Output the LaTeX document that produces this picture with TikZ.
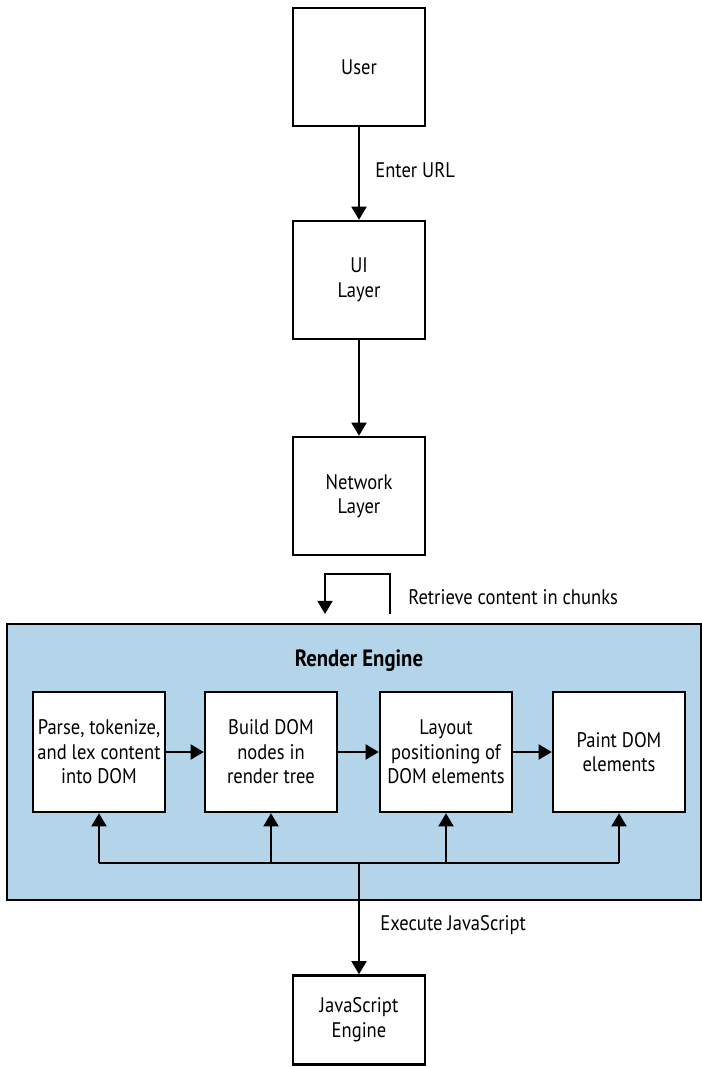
\documentclass[tikz,border=0pt]{standalone}
\usepackage{fontspec}
\setmainfont{PT Sans}[FakeStretch=0.88]
\usetikzlibrary{arrows.meta, positioning}

\definecolor{engineblue}{HTML}{B3D4E9}

\begin{document}
\begin{tikzpicture}[x=0.02cm, y=-0.02cm,
    box/.style={draw, line width=1.4pt, fill=white, minimum width=2.64cm,
        minimum height=2.36cm, align=center, font=\large, inner sep=2pt},
    stage/.style={box, minimum height=2.4cm},
    flow/.style={line width=1.3pt, -{Triangle[length=7.5pt, width=8.5pt]}},
    note/.style={anchor=west, inner sep=0pt, font=\large}]
\useasboundingbox (0,0) rectangle (702,1068);

% outer flow
\node[box] (user) at (359,67) {User};
\node[box] (ui) at (359,280) {UI\\Layer};
\node[box] (net) at (359,496) {Network\\Layer};

% render engine
\node[draw, line width=1.4pt, fill=engineblue, minimum width=13.88cm,
    minimum height=5.52cm] (engine) at (354,762) {};
\node[font=\fontsize{13.4}{16}\selectfont\bfseries] (title) at (359,661) {Render Engine};
\node[stage] (parse) at (99,752) {Parse, tokenize,\\and lex content\\into DOM};
\node[stage] (build) at (271,752) {Build DOM\\nodes in\\render tree};
\node[stage] (layout) at (446,752) {Layout\\positioning of\\DOM elements};
\node[stage] (paint) at (619,752) {Paint DOM\\elements};

\node[box, minimum height=1.78cm] (js) at (359,1020) {JavaScript\\Engine};

\draw[flow] (user) -- (ui);
\node[note] (urltxt) at (375,170) {Enter URL};
\draw[flow] (ui) -- (net);

\coordinate (retr) at (390,614);
\coordinate (retl) at (325,614);
\draw[flow] (retr) -- ++(0,-40) -| (retl);
\node[note] (chunks) at (408,597) {Retrieve content in chunks};

\draw[flow] (parse) -- (build);
\draw[flow] (build) -- (layout);
\draw[flow] (layout) -- (paint);

% script bus
\coordinate (bus) at (359,863);
\draw[line width=1.3pt] (parse.south |- bus) -- (paint.south |- bus);
\foreach \s in {parse, build, layout, paint}
    \draw[flow] (\s.south |- bus) -- (\s.south);
\draw[flow] (bus) -- (js);
\node[note] (jstxt) at (380,925) {Execute JavaScript};
\end{tikzpicture}
\end{document}
